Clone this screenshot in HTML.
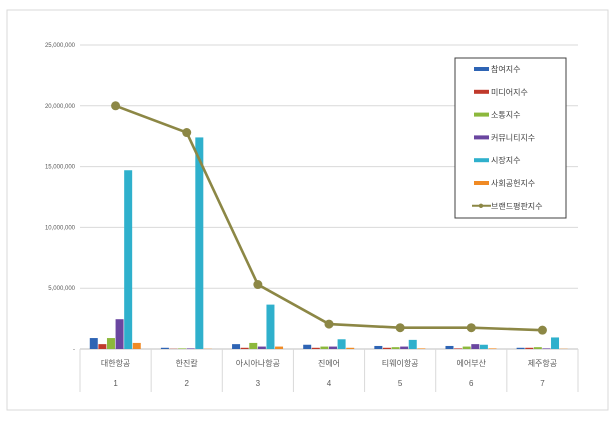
<!DOCTYPE html>
<html><head><meta charset="utf-8"><style>
body{margin:0;background:#fff;font-family:"Liberation Sans","Noto Sans CJK KR",sans-serif;}
</style></head><body>
<svg id="c" width="615" height="420" xmlns="http://www.w3.org/2000/svg">
<rect x="7" y="10" width="601" height="400" fill="#fff" stroke="#d9d9d9"/>
</svg>
<script>
const categories=["대한항공","한진칼","아시아나항공","진에어","티웨이항공","에어부산","제주항공"];
const ranks=["1","2","3","4","5","6","7"];
const seriesNames=["참여지수","미디어지수","소통지수","커뮤니티지수","시장지수","사회공헌지수"];
const seriesColors=["#2e64b4","#c0392b","#8cb83c","#6a46a0","#2fb0cc","#f08a24"];
const s1=[900000,100000,400000,350000,250000,250000,100000];
const s2=[400000,20000,100000,100000,100000,50000,100000];
const s3=[900000,50000,500000,200000,150000,200000,150000];
const s4=[2450000,50000,200000,200000,200000,400000,50000];
const s5=[14700000,17400000,3650000,800000,750000,350000,950000];
const s6=[500000,20000,200000,100000,50000,50000,20000];
const brand=[20000000,17800000,5300000,2050000,1750000,1750000,1550000];
const yTicks=[0,5000000,10000000,15000000,20000000,25000000];
const yTickLabels=["-","5,000,000","10,000,000","15,000,000","20,000,000","25,000,000"];
const series=[s1,s2,s3,s4,s5,s6];
const NS="http://www.w3.org/2000/svg";
const svg=document.getElementById("c");
const x0=80,x1=578,yb=349,yt=45,ymax=25000000;
const cw=(x1-x0)/categories.length;
const y=v=>yb-(v/ymax)*(yb-yt);
const cx=i=>x0+cw*(i+0.5);
function mk(t,a){const e=document.createElementNS(NS,t);for(const k in a)e.setAttribute(k,a[k]);svg.appendChild(e);return e;}
yTicks.forEach((t,i)=>{
  const g=mk("line",{x1:x0,x2:x1,y1:y(t),y2:y(t),stroke:i==0?"#bfbfbf":"#d9d9d9"});
  
  
  const l=mk("text",{x:75,y:y(t)+2,"font-size":"6","text-anchor":"end",fill:"#595959"});
  l.textContent=yTickLabels[i];
  
  
});
for(let i=0;i<=categories.length;i++){
  const s=mk("line",{x1:x0+cw*i,x2:x0+cw*i,y1:yb,y2:392,stroke:"#d9d9d9"});
  
  
}
categories.forEach((c,i)=>{
  const t=mk("text",{x:cx(i),y:366,"font-size":"8","text-anchor":"middle",fill:"#595959"});
  t.textContent=c;
  
  
  const r=mk("text",{x:cx(i),y:386,"font-size":"8","text-anchor":"middle",fill:"#595959"});
  r.textContent=ranks[i];
  
  
});
const bw=8.6;
series.forEach((s,j)=>{
  s.forEach((v,i)=>{
    const bx=cx(i)-bw*3+bw*j;
    const b=mk("rect",{x:bx,y:y(v),width:bw-0.6,height:yb-y(v),fill:seriesColors[j]});
    
    
  });
});
const pl=mk("polyline",{points:brand.map((v,i)=>cx(i)+","+y(v)).join(" "),fill:"none",stroke:"#8c8745","stroke-width":"2.6"});


brand.forEach((v,i)=>{
  const p=mk("circle",{cx:cx(i),cy:y(v),r:4.5,fill:"#8c8745"});
  
  
});
const lg=mk("rect",{x:455,y:58,width:111,height:160,fill:"#fff",stroke:"#404040"});


const names=seriesNames.concat(["브랜드평판지수"]);
names.forEach((n,k)=>{
  const ly=69+k*22.8;
  if(k<6){
    const sw=mk("rect",{x:474,y:ly-2,width:15,height:4,fill:seriesColors[k]});
    
    
  }else{
    const sl=mk("line",{x1:472,x2:491,y1:ly,y2:ly,stroke:"#8c8745","stroke-width":"2"});
    
    
    const sc=mk("circle",{cx:481,cy:ly,r:2.2,fill:"#8c8745"});
    
    
  }
  const t=mk("text",{x:491,y:ly+3,"font-size":"8",fill:"#404040"});
  t.textContent=n;
  
  
});
</script>
</body></html>
